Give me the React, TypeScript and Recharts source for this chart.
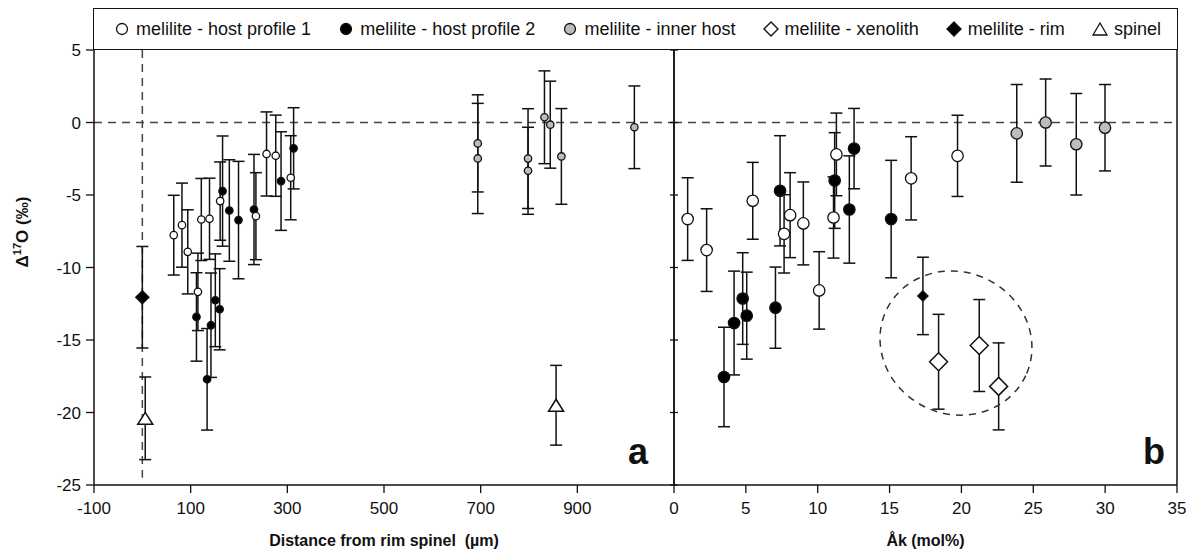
import React from 'react';
import { ScatterChart, Scatter, XAxis, YAxis, ErrorBar, ReferenceLine, ReferenceDot } from 'recharts';

// ---------- tick labels ----------
const xTicksA = [-100, 100, 300, 500, 700, 900];
const xTicksB = [0, 5, 10, 15, 20, 25, 30, 35];
const yTicks = [-25, -20, -15, -10, -5, 0, 5];

// ---------- panel a : distance from rim spinel (µm) ----------
const hostProfile1A = [
  { x: 65, y: -7.77, e: 2.75 }, { x: 82, y: -7.08, e: 2.9 }, { x: 94, y: -8.92, e: 2.9 },
  { x: 115, y: -11.68, e: 2.67 }, { x: 122, y: -6.69, e: 2.83 }, { x: 139, y: -6.64, e: 2.8 },
  { x: 161, y: -5.42, e: 2.7 }, { x: 235, y: -6.46, e: 3.0 }, { x: 257, y: -2.17, e: 2.9 },
  { x: 276, y: -2.29, e: 2.8 }, { x: 307, y: -3.81, e: 2.9 },
];
const hostProfile2A = [
  { x: 112, y: -13.41, e: 3.05 }, { x: 134, y: -17.71, e: 3.5 }, { x: 142, y: -13.98, e: 3.6 },
  { x: 151, y: -12.26, e: 3.2 }, { x: 160, y: -12.88, e: 2.8 }, { x: 166, y: -4.73, e: 3.8 },
  { x: 180, y: -6.07, e: 3.5 }, { x: 199, y: -6.73, e: 4.05 }, { x: 231, y: -6.0, e: 3.8 },
  { x: 287, y: -4.04, e: 3.4 }, { x: 313, y: -1.78, e: 2.8 },
];
const innerHostA = [
  { x: 694, y: -1.44, e: 3.35 }, { x: 694, y: -2.48, e: 3.8 }, { x: 798, y: -2.49, e: 3.44 },
  { x: 798, y: -3.33, e: 3.0 }, { x: 832, y: 0.36, e: 3.2 }, { x: 844, y: -0.15, e: 3.0 },
  { x: 867, y: -2.34, e: 3.3 }, { x: 1018, y: -0.33, e: 2.85 },
];
const rimA = [{ x: 0, y: -12.05, e: 3.5 }];
const spinelA = [{ x: 6, y: -20.4, e: 2.85 }, { x: 856, y: -19.5, e: 2.75 }];

// ---------- panel b : Åk (mol%) ----------
const hostProfile1B = [
  { x: 0.95, y: -6.66, e: 2.85 }, { x: 2.27, y: -8.8, e: 2.85 }, { x: 5.48, y: -5.4, e: 2.65 },
  { x: 7.66, y: -7.68, e: 2.7 }, { x: 8.08, y: -6.39, e: 2.93 }, { x: 9.0, y: -6.96, e: 2.86 },
  { x: 10.1, y: -11.58, e: 2.67 }, { x: 11.1, y: -6.55, e: 2.8 }, { x: 11.3, y: -2.2, e: 2.85 },
  { x: 16.5, y: -3.85, e: 2.87 }, { x: 19.73, y: -2.3, e: 2.8 },
];
const hostProfile2B = [
  { x: 3.48, y: -17.55, e: 3.43 }, { x: 4.18, y: -13.83, e: 3.58 }, { x: 4.78, y: -12.14, e: 3.16 },
  { x: 5.06, y: -13.32, e: 3.0 }, { x: 7.06, y: -12.77, e: 2.8 }, { x: 7.38, y: -4.71, e: 3.8 },
  { x: 11.18, y: -4.0, e: 3.3 }, { x: 12.2, y: -6.0, e: 3.7 }, { x: 12.53, y: -1.8, e: 2.77 },
  { x: 15.11, y: -6.66, e: 4.05 },
];
const innerHostB = [
  { x: 23.85, y: -0.75, e: 3.37 }, { x: 25.86, y: 0.0, e: 3.0 }, { x: 27.99, y: -1.5, e: 3.5 },
  { x: 29.99, y: -0.36, e: 2.98 },
];
const rimB = [{ x: 17.32, y: -11.96, e: 2.67 }];
const xenolithB = [
  { x: 18.41, y: -16.5, e: 3.27 }, { x: 21.24, y: -15.38, e: 3.17 }, { x: 22.59, y: -18.2, e: 3.0 },
];
const ellipseCenter = { x: 19.62, y: -15.21 };

const legendLabels = [
  'melilite - host profile 1',
  'melilite - host profile 2',
  'melilite - inner host',
  'melilite - xenolith',
  'melilite - rim',
  'spinel',
];

const FONT = '"Liberation Sans", Arial, Helvetica, sans-serif';
const INK = '#111';
const GRAY = '#bdbdbd';

const circle = (r: number, fill: string) => (p: any) => (
  <circle cx={p.cx} cy={p.cy} r={r} fill={fill} stroke={INK} strokeWidth={1.3} />
);
const diamond = (h: number, fill: string) => (p: any) => (
  <polygon
    points={`${p.cx},${p.cy - h} ${p.cx + h},${p.cy} ${p.cx},${p.cy + h} ${p.cx - h},${p.cy}`}
    fill={fill}
    stroke={INK}
    strokeWidth={1.5}
  />
);
const triangle = (w: number, h: number) => (p: any) => (
  <polygon
    points={`${p.cx},${p.cy - h / 2} ${p.cx + w / 2},${p.cy + h / 2} ${p.cx - w / 2},${p.cy + h / 2}`}
    fill="#fff"
    stroke={INK}
    strokeWidth={1.5}
  />
);

const eb = <ErrorBar dataKey="e" direction="y" width={6} stroke={INK} strokeWidth={1.5} />;

const YTitle = () => (
  <text
    x={28}
    y={232}
    transform="rotate(-90, 28, 232)"
    textAnchor="middle"
    fontFamily={FONT}
    fontWeight="bold"
    fontSize={17}
    fill={INK}
  >
    Δ<tspan fontSize={11} dy={-7}>17</tspan>
    <tspan dy={7}>O (‰)</tspan>
  </text>
);

const CrossTick = (p: any) => (
  <line x1={p.x - 4} x2={p.x + 4} y1={p.y} y2={p.y} stroke={INK} strokeWidth={1.3} />
);

const legendSymbol = (i: number) => {
  const s = 16;
  const c = s / 2;
  switch (i) {
    case 0:
      return <circle cx={c} cy={c} r={5.5} fill="#fff" stroke={INK} strokeWidth={1.3} />;
    case 1:
      return <circle cx={c} cy={c} r={5.5} fill="#000" stroke={INK} strokeWidth={1.3} />;
    case 2:
      return <circle cx={c} cy={c} r={5.5} fill={GRAY} stroke={INK} strokeWidth={1.3} />;
    case 3:
      return <polygon points={`${c},1 ${s - 1},${c} ${c},${s - 1} 1,${c}`} fill="#fff" stroke={INK} strokeWidth={1.4} />;
    case 4:
      return <polygon points={`${c},1 ${s - 1},${c} ${c},${s - 1} 1,${c}`} fill="#000" stroke={INK} strokeWidth={1.4} />;
    default:
      return <polygon points={`${c},2 ${s - 1},${s - 2} 1,${s - 2}`} fill="#fff" stroke={INK} strokeWidth={1.3} />;
  }
};

const axisStyle = { stroke: INK, strokeWidth: 1.5 };
const tickStyle = { fontSize: 17, fill: INK, fontFamily: FONT };

export default function App() {
  return (
    <div style={{ position: 'absolute', left: 0, top: 0, width: 1201, height: 552, background: '#fff', fontFamily: FONT }}>
      {/* panel a */}
      <div style={{ position: 'absolute', left: 0, top: 0 }}>
        <ScatterChart width={680} height={552} margin={{ top: 50, right: 6, bottom: 0, left: 0 }}>
          <XAxis
            type="number"
            dataKey="x"
            domain={[-100, 1100]}
            ticks={xTicksA}
            height={67}
            tickSize={8}
            tickMargin={9}
            axisLine={axisStyle}
            tickLine={{ stroke: INK, strokeWidth: 1.3 }}
            tick={tickStyle}
            label={{
              value: 'Distance from rim spinel\u00a0\u00a0(µm)',
              position: 'insideBottom',
              offset: 6,
              style: { fontSize: 16, fontWeight: 'bold', fill: INK, fontFamily: FONT },
            }}
          />
          <YAxis
            type="number"
            dataKey="y"
            domain={[-25, 5]}
            ticks={yTicks}
            width={94}
            tickSize={8}
            tickMargin={5}
            axisLine={axisStyle}
            tickLine={{ stroke: INK, strokeWidth: 1.3 }}
            tick={tickStyle}
            label={<YTitle />}
          />
          <ReferenceLine y={0} stroke="#444" strokeDasharray="8 6" strokeWidth={1.5} />
          <ReferenceLine
            segment={[{ x: 0, y: 5 }, { x: 0, y: -24.5 }]}
            stroke="#444"
            strokeDasharray="8 6"
            strokeWidth={1.5}
          />
          <ReferenceLine x={1100} stroke={INK} strokeWidth={1.5} />
          <Scatter data={innerHostA} isAnimationActive={false} shape={circle(3.7, GRAY)}>{eb}</Scatter>
          <Scatter data={hostProfile2A} isAnimationActive={false} shape={circle(3.7, '#000')}>{eb}</Scatter>
          <Scatter data={hostProfile1A} isAnimationActive={false} shape={circle(3.7, '#fff')}>{eb}</Scatter>
          <Scatter data={rimA} isAnimationActive={false} shape={diamond(6.5, '#000')}>{eb}</Scatter>
          <Scatter data={spinelA} isAnimationActive={false} shape={triangle(15, 12)}>{eb}</Scatter>
        </ScatterChart>
      </div>

      {/* panel b */}
      <div style={{ position: 'absolute', left: 600, top: 0 }}>
        <ScatterChart width={601} height={552} margin={{ top: 50, right: 24, bottom: 0, left: 0 }}>
          <XAxis
            type="number"
            dataKey="x"
            domain={[0, 35]}
            ticks={xTicksB}
            height={67}
            tickSize={8}
            tickMargin={9}
            axisLine={axisStyle}
            tickLine={{ stroke: INK, strokeWidth: 1.3 }}
            tick={tickStyle}
            label={{
              value: 'Åk (mol%)',
              position: 'insideBottom',
              offset: 6,
              style: { fontSize: 16, fontWeight: 'bold', fill: INK, fontFamily: FONT },
            }}
          />
          <YAxis
            type="number"
            dataKey="y"
            domain={[-25, 5]}
            ticks={yTicks}
            width={74}
            tickSize={0}
            tickMargin={0}
            axisLine={axisStyle}
            tickLine={false}
            tick={<CrossTick />}
          />
          <ReferenceLine y={0} stroke="#444" strokeDasharray="8 6" strokeWidth={1.5} />
          <ReferenceLine x={35} stroke={INK} strokeWidth={1.5} />
          <ReferenceDot
            x={ellipseCenter.x}
            y={ellipseCenter.y}
            r={74}
            shape={(p: any) => (
              <ellipse
                cx={p.cx}
                cy={p.cy}
                rx={77}
                ry={71}
                transform={`rotate(25, ${p.cx}, ${p.cy})`}
                fill="none"
                stroke="#333"
                strokeWidth={1.5}
                strokeDasharray="7 6"
              />
            )}
          />
          <Scatter data={innerHostB} isAnimationActive={false} shape={circle(5.7, GRAY)}>{eb}</Scatter>
          <Scatter data={hostProfile2B} isAnimationActive={false} shape={circle(5.7, '#000')}>{eb}</Scatter>
          <Scatter data={hostProfile1B} isAnimationActive={false} shape={circle(5.7, '#fff')}>{eb}</Scatter>
          <Scatter data={rimB} isAnimationActive={false} shape={diamond(5, '#000')}>{eb}</Scatter>
          <Scatter data={xenolithB} isAnimationActive={false} shape={diamond(9, '#fff')}>{eb}</Scatter>
        </ScatterChart>
      </div>

      {/* legend box */}
      <div
        style={{
          position: 'absolute',
          left: 93,
          top: 8,
          width: 1085,
          height: 42,
          border: `1.5px solid ${INK}`,
          boxSizing: 'border-box',
          display: 'flex',
          alignItems: 'center',
          justifyContent: 'space-between',
          padding: '0 16px 0 20px',
          fontSize: 18,
          color: INK,
          background: 'transparent',
        }}
      >
        {legendLabels.map((label, i) => (
          <div key={label} style={{ display: 'flex', alignItems: 'center', whiteSpace: 'nowrap' }}>
            <svg width={16} height={16} style={{ marginRight: 6 }}>
              {legendSymbol(i)}
            </svg>
            <span>{label}</span>
          </div>
        ))}
      </div>

      {/* panel letters */}
      <div style={{ position: 'absolute', right: 553, top: 434, fontSize: 36, fontWeight: 'bold', lineHeight: '36px', color: INK }}>a</div>
      <div style={{ position: 'absolute', right: 36, top: 434, fontSize: 36, fontWeight: 'bold', lineHeight: '36px', color: INK }}>b</div>
    </div>
  );
}
